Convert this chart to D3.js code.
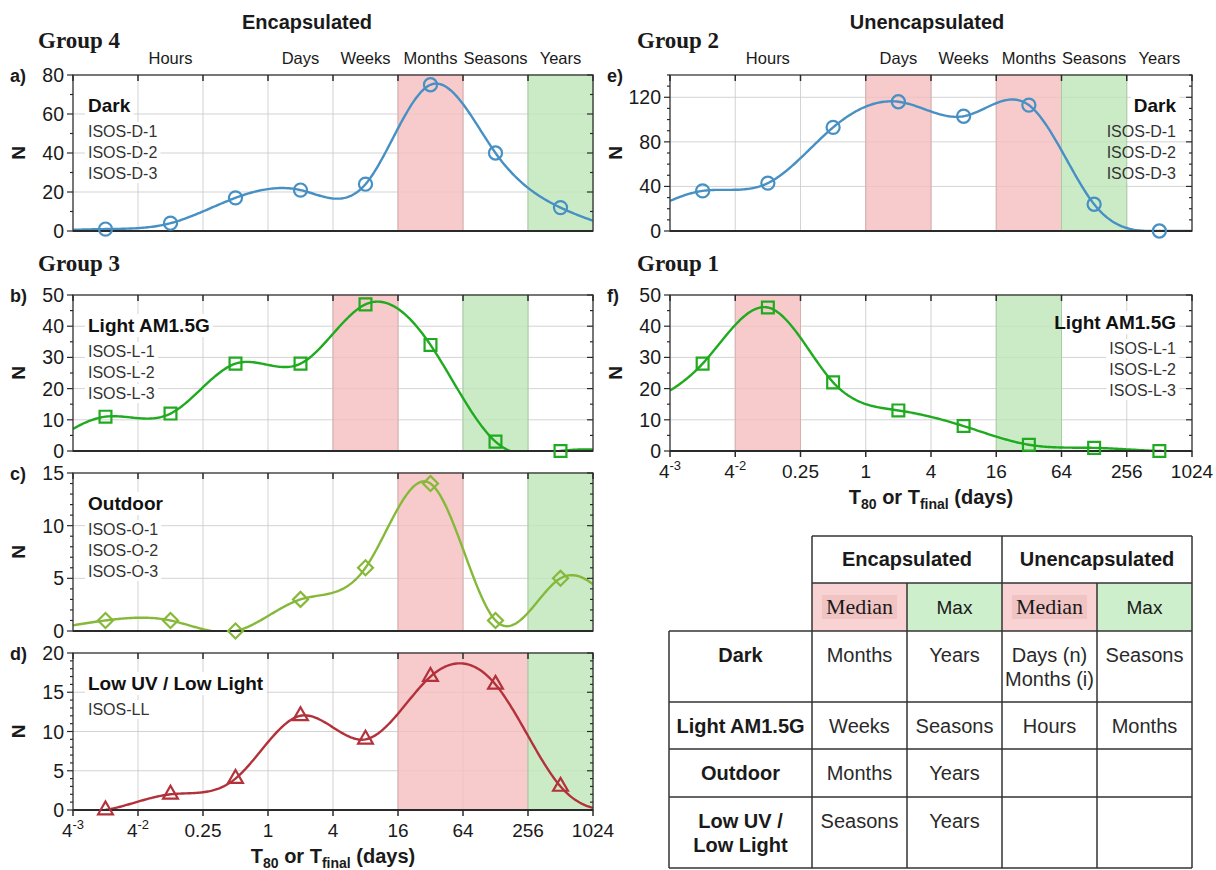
<!DOCTYPE html>
<html>
<head>
<meta charset="utf-8">
<title>ISOS T80 distributions</title>
<script src="https://cdnjs.cloudflare.com/ajax/libs/d3/7.8.5/d3.min.js"></script>
<style>
  body { margin: 0; background: #fff; }
  svg text { font-family: "Liberation Sans", Arial, sans-serif; fill: #1a1a1a; }
  svg text.serif { font-family: "Liberation Serif", "Times New Roman", serif; }
</style>
</head>
<body>
<script>
// x axis (days, log base 4 ticks) and the time-period bands
var tickValues = [1/64, 1/16, 0.25, 1, 4, 16, 64, 256, 1024];
var tickLabels = ["4|-3", "4|-2", "0.25", "1", "4", "16", "64", "256", "1024"];
// first and last bins lie just outside the plotted range (only the curve reaches them)
var binCenters = [1/128, 1/32, 1/8, 0.5, 2, 8, 32, 128, 512, 2048];
var periodNames = ["Hours", "Days", "Weeks", "Months", "Seasons", "Years"];
var periodAt = [1/8, 2, 8, 32, 128, 512];

// counts per bin
var encDark = [0, 1, 4, 17, 21, 24, 75, 40, 12, 0];
var encLight = [0, 11, 12, 28, 28, 47, 34, 3, 0, 0];
var encOutdoor = [0, 1, 1, 0, 3, 6, 14, 1, 5, 1];
var encLowUV = [0, 0, 2, 4, 12, 9, 17, 16, 3, 0];
var unencDark = [12, 36, 43, 93, 116, 103, 113, 24, 0, 0];
var unencLight = [14, 28, 46, 22, 13, 8, 2, 1, 0, 0];

// median (red) and max (green) ranges
var encDarkMedian = [[16, 64]], encDarkMax = [256, 1024];
var encLightMedian = [[4, 16]], encLightMax = [64, 256];
var encOutdoorMedian = [[16, 64]], encOutdoorMax = [256, 1024];
var encLowUVMedian = [[16, 256]], encLowUVMax = [256, 1024];
var unencDarkMedian = [[1, 4], [16, 64]], unencDarkMax = [64, 256];
var unencLightMedian = [[1/16, 0.25]], unencLightMax = [16, 64];

// summary table
var tableGroups = ["Encapsulated", "Unencapsulated"];
var tableSub = ["Median", "Max", "Median", "Max"];
var tableRows = [["Dark"], ["Light AM1.5G"], ["Outdoor"], ["Low UV /", "Low Light"]];
var tableCells = [
  [["Months"], ["Years"], ["Days (n)", "Months (i)"], ["Seasons"]],
  [["Weeks"], ["Seasons"], ["Hours"], ["Months"]],
  [["Months"], ["Years"], [], []],
  [["Seasons"], ["Years"], [], []]
];

var W = 1216, H = 870;
var svg = d3.select("body").append("svg").attr("width", W).attr("height", H);

var left = { x0: 73, x1: 593 }, right = { x0: 670, x1: 1192 };

var panels = [
  { id: "a", col: left, top: 75, bottom: 231, yMax: 80, step: 20, minor: 10, values: encDark,
    color: "#4790c4", marker: "circle", title: "Dark", lines: ["ISOS-D-1", "ISOS-D-2", "ISOS-D-3"],
    align: "left", median: encDarkMedian, max: encDarkMax, periods: true, xlabels: false },
  { id: "b", col: left, top: 295, bottom: 451, yMax: 50, step: 10, minor: 5, values: encLight,
    color: "#1faa1f", marker: "square", title: "Light AM1.5G", lines: ["ISOS-L-1", "ISOS-L-2", "ISOS-L-3"],
    align: "left", median: encLightMedian, max: encLightMax, periods: false, xlabels: false },
  { id: "c", col: left, top: 473, bottom: 631, yMax: 15, step: 5, minor: 1, values: encOutdoor,
    color: "#86b93a", marker: "diamond", title: "Outdoor", lines: ["ISOS-O-1", "ISOS-O-2", "ISOS-O-3"],
    align: "left", median: encOutdoorMedian, max: encOutdoorMax, periods: false, xlabels: false },
  { id: "d", col: left, top: 653, bottom: 810, yMax: 20, step: 5, minor: 1, values: encLowUV,
    color: "#b3313b", marker: "triangle", title: "Low UV / Low Light", lines: ["ISOS-LL"],
    align: "left", median: encLowUVMedian, max: encLowUVMax, periods: false, xlabels: true },
  { id: "e", col: right, top: 75, bottom: 231, yMax: 140, step: 40, minor: 10, values: unencDark,
    color: "#4790c4", marker: "circle", title: "Dark", lines: ["ISOS-D-1", "ISOS-D-2", "ISOS-D-3"],
    align: "right", median: unencDarkMedian, max: unencDarkMax, periods: true, xlabels: false },
  { id: "f", col: right, top: 295, bottom: 451, yMax: 50, step: 10, minor: 5, values: unencLight,
    color: "#1faa1f", marker: "square", title: "Light AM1.5G", lines: ["ISOS-L-1", "ISOS-L-2", "ISOS-L-3"],
    align: "right", median: unencLightMedian, max: unencLightMax, periods: false, xlabels: true, titleDy: -3 }
];

function naturalSpline(xs, ys) {
  var n = xs.length, h = [], al = [], l = [1], mu = [0], z = [0], b = [], c = [], d = [], i;
  for (i = 0; i < n - 1; i++) h[i] = xs[i + 1] - xs[i];
  for (i = 1; i < n - 1; i++) al[i] = 3 / h[i] * (ys[i + 1] - ys[i]) - 3 / h[i - 1] * (ys[i] - ys[i - 1]);
  for (i = 1; i < n - 1; i++) {
    l[i] = 2 * (xs[i + 1] - xs[i - 1]) - h[i - 1] * mu[i - 1];
    mu[i] = h[i] / l[i];
    z[i] = (al[i] - h[i - 1] * z[i - 1]) / l[i];
  }
  c[n - 1] = 0;
  for (i = n - 2; i >= 0; i--) {
    c[i] = z[i] - mu[i] * c[i + 1];
    b[i] = (ys[i + 1] - ys[i]) / h[i] - h[i] * (c[i + 1] + 2 * c[i]) / 3;
    d[i] = (c[i + 1] - c[i]) / (3 * h[i]);
  }
  return function(x) {
    var j = 0;
    while (j < n - 2 && x > xs[j + 1]) j++;
    var t = x - xs[j];
    return ys[j] + b[j] * t + c[j] * t * t + d[j] * t * t * t;
  };
}

function markerPath(type) {
  if (type === "circle") return d3.symbol().type(d3.symbolCircle).size(135)();
  if (type === "square") return d3.symbol().type(d3.symbolSquare).size(140)();
  if (type === "diamond") return d3.symbol().type(d3.symbolSquare).size(112)();
  return d3.symbol().type(d3.symbolTriangle).size(95)();
}

function tickText(sel, label) {
  var parts = label.split("|");
  sel.append("tspan").text(parts[0]);
  if (parts[1]) sel.append("tspan").attr("dy", -8).attr("font-size", 13).text(parts[1]);
}

function axisTitle(g, cx, y) {
  var t = g.append("text").attr("x", cx).attr("y", y).attr("text-anchor", "middle")
    .attr("font-size", 20).attr("font-weight", "bold");
  t.append("tspan").text("T");
  t.append("tspan").attr("font-size", 14).attr("dy", 5).text("80");
  t.append("tspan").attr("dy", -5).text(" or T");
  t.append("tspan").attr("font-size", 14).attr("dy", 5).text("final");
  t.append("tspan").attr("dy", -5).text(" (days)");
}

panels.forEach(function(p) {
  var x = d3.scaleLog().base(2).domain([1/64, 1024]).range([p.col.x0, p.col.x1]);
  var y = d3.scaleLinear().domain([0, p.yMax]).range([p.bottom, p.top]);
  var g = svg.append("g");

  // grid
  var yMajor = d3.range(0, p.yMax + 0.001, p.step);
  var yMinor = d3.range(0, p.yMax + 0.001, p.minor);
  g.selectAll(".vg").data(tickValues).enter().append("line")
    .attr("x1", function(d) { return x(d); }).attr("x2", function(d) { return x(d); })
    .attr("y1", p.top).attr("y2", p.bottom).attr("stroke", "#c8c8c8").attr("stroke-opacity", 0.8);
  g.selectAll(".hg").data(yMajor).enter().append("line")
    .attr("x1", p.col.x0).attr("x2", p.col.x1)
    .attr("y1", function(d) { return y(d); }).attr("y2", function(d) { return y(d); })
    .attr("stroke", "#c8c8c8").attr("stroke-opacity", 0.8);

  // legend: white backing hides the grid, bands are painted over it afterwards
  var backs = g.append("g");
  var lx = p.align === "left" ? p.col.x0 + 15 : p.col.x1 - 16;
  var anchor = p.align === "left" ? "start" : "end";
  var dy0 = p.titleDy || 0;
  var items = [{ t: p.title, bold: true, y: p.top + 37 + dy0 }];
  p.lines.forEach(function(s, i) { items.push({ t: s, bold: false, y: p.top + 62 + dy0 + i * 21 }); });

  // median / max bands (translucent so the grid shows faintly through)
  p.median.forEach(function(r) {
    g.append("rect").attr("x", x(r[0])).attr("y", p.top).attr("width", x(r[1]) - x(r[0]))
      .attr("height", p.bottom - p.top).attr("fill", "#f5bebe").attr("fill-opacity", 0.8)
      .attr("stroke", "#d8aeae").attr("stroke-width", 1);
  });
  g.append("rect").attr("x", x(p.max[0])).attr("y", p.top).attr("width", x(p.max[1]) - x(p.max[0]))
    .attr("height", p.bottom - p.top).attr("fill", "#bee6b9").attr("fill-opacity", 0.8)
    .attr("stroke", "#a8cda4").attr("stroke-width", 1);

  var lg = g.append("g");
  items.forEach(function(it) {
    var t = lg.append("text").attr("x", lx).attr("y", it.y).attr("text-anchor", anchor)
      .attr("font-size", it.bold ? 19 : 16).attr("font-weight", it.bold ? "bold" : "normal")
      .style("fill", it.bold ? "#111" : "#333").text(it.t);
    var bb = t.node().getBBox();
    backs.append("rect").attr("x", bb.x - 3).attr("y", bb.y - 1)
      .attr("width", bb.width + 6).attr("height", bb.height + 2).attr("fill", "#fff");
  });

  // curve (natural cubic spline in log2 space, clipped to the plot)
  var u = binCenters.map(function(d) { return Math.log2(d); });
  var f = naturalSpline(u, p.values);
  var pts = d3.range(-6, 10.001, 0.05).map(function(v) { return [Math.pow(2, v), f(v)]; });
  g.append("clipPath").attr("id", "clip-" + p.id).append("rect")
    .attr("x", p.col.x0).attr("y", p.top).attr("width", p.col.x1 - p.col.x0).attr("height", p.bottom - p.top);
  g.append("path").datum(pts).attr("clip-path", "url(#clip-" + p.id + ")")
    .attr("fill", "none").attr("stroke", p.color).attr("stroke-width", 2.4)
    .attr("d", d3.line().x(function(d) { return x(d[0]); }).y(function(d) { return y(d[1]); }));

  // frame and ticks
  g.append("rect").attr("x", p.col.x0).attr("y", p.top).attr("width", p.col.x1 - p.col.x0)
    .attr("height", p.bottom - p.top).attr("fill", "none").attr("stroke", "#3a3a3a").attr("stroke-width", 1.3);
  g.append("line").attr("x1", p.col.x0).attr("x2", p.col.x1).attr("y1", p.bottom).attr("y2", p.bottom)
    .attr("stroke", "#2a2a2a").attr("stroke-width", 2);
  g.selectAll(".tt").data(tickValues).enter().append("line")
    .attr("x1", function(d) { return x(d); }).attr("x2", function(d) { return x(d); })
    .attr("y1", p.top).attr("y2", p.top + 6).attr("stroke", "#2a2a2a").attr("stroke-width", 1.5);
  g.selectAll(".ml").data(yMinor).enter().append("line")
    .attr("x1", function(d) { return p.col.x0 - (d % p.step === 0 ? 6 : 3); }).attr("x2", p.col.x0)
    .attr("y1", function(d) { return y(d); }).attr("y2", function(d) { return y(d); })
    .attr("stroke", "#2a2a2a").attr("stroke-width", 1.2);
  g.selectAll(".mr").data(yMinor).enter().append("line")
    .attr("x1", function(d) { return p.col.x1 - (d % p.step === 0 ? 6 : 3); }).attr("x2", p.col.x1)
    .attr("y1", function(d) { return y(d); }).attr("y2", function(d) { return y(d); })
    .attr("stroke", "#2a2a2a").attr("stroke-width", 1.2);
  g.selectAll(".yl").data(yMajor).enter().append("text")
    .attr("x", p.col.x0 - 9).attr("y", function(d) { return y(d) + 7; })
    .attr("text-anchor", "end").attr("font-size", 19.5).text(function(d) { return d; });

  // markers for the bins inside the plotted range
  var shown = p.values.map(function(v, i) { return { v: v, at: binCenters[i] }; })
    .filter(function(d) { return d.at >= 1/64 && d.at <= 1024; });
  g.selectAll(".mk").data(shown).enter().append("path")
    .attr("d", markerPath(p.marker))
    .attr("transform", function(d) {
      return "translate(" + x(d.at) + "," + y(d.v) + ")" + (p.marker === "diamond" ? " rotate(45)" : "");
    })
    .attr("fill", "none").attr("stroke", p.color).attr("stroke-width", 2.2);

  // labels
  g.append("text").attr("x", p.col.x0 - 63).attr("y", p.top + 7).attr("font-size", 18)
    .attr("font-weight", "bold").text(p.id + ")");
  g.append("text").attr("transform", "translate(" + (p.col.x0 - 48) + "," + ((p.top + p.bottom) / 2) + ") rotate(-90)")
    .attr("text-anchor", "middle").attr("font-size", 19).attr("font-weight", "bold").text("N");

  if (p.periods) {
    g.selectAll(".pn").data(periodNames).enter().append("text")
      .attr("x", function(d, i) { return x(periodAt[i]); }).attr("y", p.top - 11)
      .attr("text-anchor", "middle").attr("font-size", 16.5).text(function(d) { return d; });
  }

  if (p.xlabels) {
    g.selectAll(".bt").data(tickValues).enter().append("line")
      .attr("x1", function(d) { return x(d); }).attr("x2", function(d) { return x(d); })
      .attr("y1", p.bottom).attr("y2", p.bottom + 6).attr("stroke", "#2a2a2a").attr("stroke-width", 1.5);
    g.selectAll(".xl").data(tickLabels).enter().append("text")
      .attr("x", function(d, i) { return x(tickValues[i]); }).attr("y", p.bottom + 27)
      .attr("text-anchor", "middle").attr("font-size", 19)
      .each(function(d) { tickText(d3.select(this), d); });
    axisTitle(g, (p.col.x0 + p.col.x1) / 2, p.bottom + 53);
  }
});

// headings
svg.append("text").attr("x", 307).attr("y", 29).attr("text-anchor", "middle")
  .attr("font-size", 20).attr("font-weight", "bold").text("Encapsulated");
svg.append("text").attr("x", 927).attr("y", 29).attr("text-anchor", "middle")
  .attr("font-size", 20).attr("font-weight", "bold").text("Unencapsulated");
[["Group 4", 38, 48], ["Group 3", 38, 271], ["Group 2", 637, 48], ["Group 1", 637, 271]].forEach(function(gl) {
  svg.append("text").attr("class", "serif").attr("x", gl[1]).attr("y", gl[2])
    .attr("font-size", 23).attr("font-weight", "bold").text(gl[0]);
});

// table
var colX = [669, 812, 907, 1002, 1097, 1192];
var rowY = [536, 583, 631, 702, 749, 797, 868];
var tb = svg.append("g");
tableSub.forEach(function(s, i) {
  tb.append("rect").attr("x", colX[i + 1]).attr("y", rowY[1]).attr("width", colX[i + 2] - colX[i + 1])
    .attr("height", rowY[2] - rowY[1]).attr("fill", s === "Median" ? "#f9d3d3" : "#cdefcb");
});
tableSub.forEach(function(s, i) {
  var t = tb.append("text").attr("x", (colX[i + 1] + colX[i + 2]) / 2).attr("y", rowY[1] + 31)
    .attr("text-anchor", "middle");
  if (s === "Median") {
    t.attr("class", "serif").attr("font-size", 22).text(s);
    var bb = t.node().getBBox();
    tb.insert("rect", function() { return t.node(); }).attr("x", bb.x - 4).attr("y", bb.y + 1)
      .attr("width", bb.width + 8).attr("height", bb.height - 1).attr("fill", "#f1c4c4");
  } else {
    t.attr("font-size", 19).text(s);
  }
});
tableGroups.forEach(function(s, i) {
  tb.append("text").attr("x", (colX[2 * i + 1] + colX[2 * i + 3]) / 2).attr("y", rowY[0] + 30)
    .attr("text-anchor", "middle").attr("font-size", 20).attr("font-weight", "bold").text(s);
});
tableRows.forEach(function(r, ri) {
  var top = rowY[ri + 2];
  r.forEach(function(s, k) {
    tb.append("text").attr("x", (colX[0] + colX[1]) / 2).attr("y", top + 31 + k * 24)
      .attr("text-anchor", "middle").attr("font-size", 20).attr("font-weight", "bold").text(s);
  });
  tableCells[ri].forEach(function(cell, ci) {
    cell.forEach(function(s, k) {
      tb.append("text").attr("x", (colX[ci + 1] + colX[ci + 2]) / 2).attr("y", top + 31 + k * 24)
        .attr("text-anchor", "middle").attr("font-size", 20).style("fill", "#2a2a2a").text(s);
    });
  });
});
// table rules
var tl = "#333";
tb.append("line").attr("x1", colX[1]).attr("x2", colX[5]).attr("y1", rowY[0]).attr("y2", rowY[0]).attr("stroke", tl).attr("stroke-width", 1.5);
tb.append("line").attr("x1", colX[1]).attr("x2", colX[5]).attr("y1", rowY[1]).attr("y2", rowY[1]).attr("stroke", tl).attr("stroke-width", 1.5);
rowY.slice(2).forEach(function(yy) {
  tb.append("line").attr("x1", colX[0]).attr("x2", colX[5]).attr("y1", yy).attr("y2", yy).attr("stroke", tl).attr("stroke-width", 1.5);
});
colX.forEach(function(xx, i) {
  var y0 = (i === 0) ? rowY[2] : (i === 2 || i === 4) ? rowY[1] : rowY[0];
  tb.append("line").attr("x1", xx).attr("x2", xx).attr("y1", y0).attr("y2", rowY[6]).attr("stroke", tl).attr("stroke-width", 1.5);
});
</script>
</body>
</html>
